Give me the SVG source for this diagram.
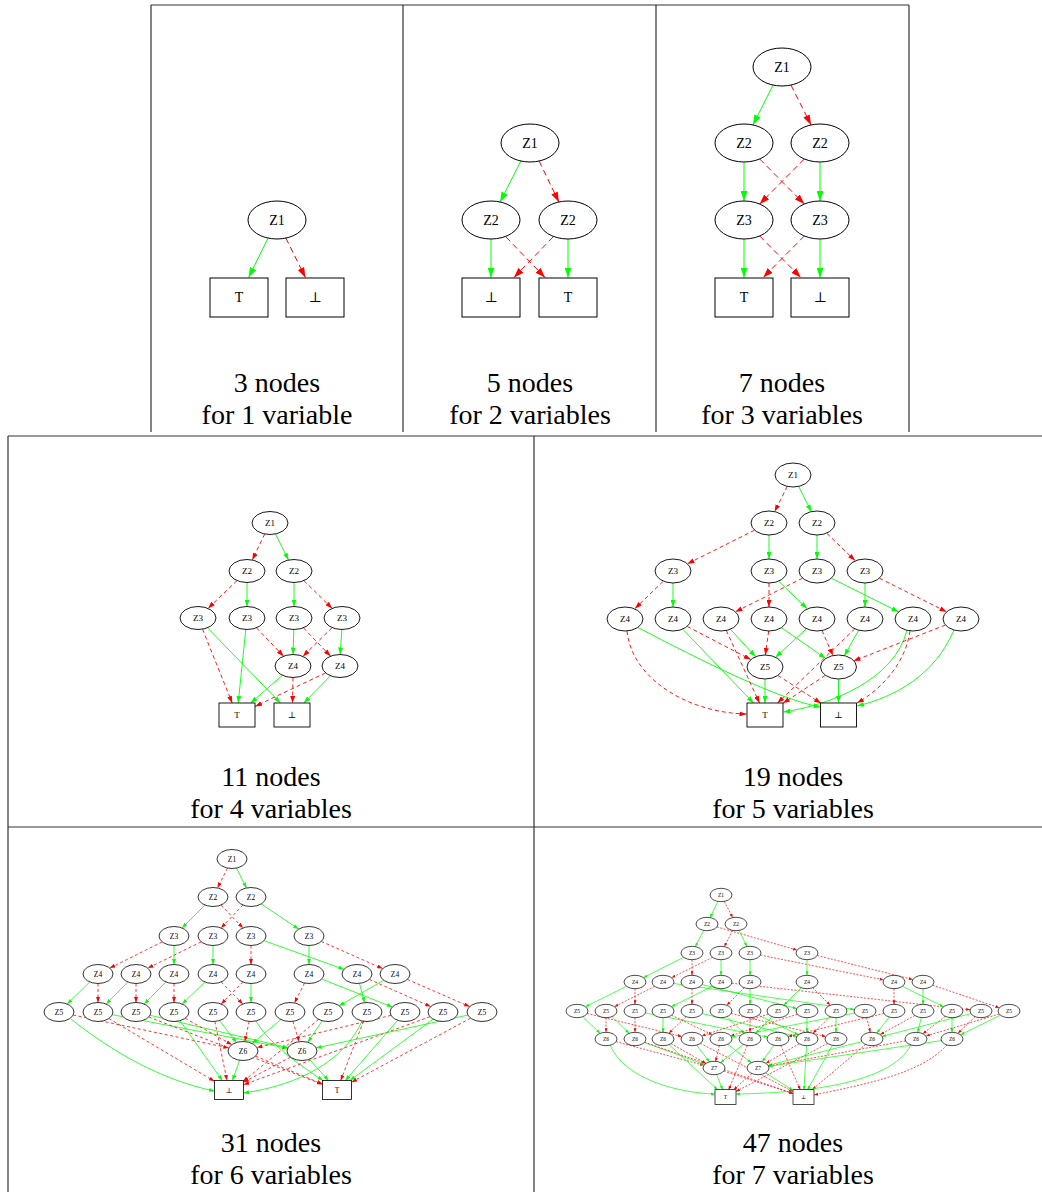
<svg xmlns="http://www.w3.org/2000/svg" width="1042" height="1192" viewBox="0 0 1042 1192">
<style>
.frame{stroke:#333;stroke-width:1.2;fill:none}
.nd ellipse,.nd rect{fill:#fff;stroke:#000}
.w1 ellipse,.w1 rect{stroke-width:1}
.w2 ellipse,.w2 rect{stroke-width:0.9}
.w3 ellipse,.w3 rect{stroke-width:0.8}
.w4 ellipse,.w4 rect{stroke-width:0.7}
.lab{font-family:"Liberation Serif","DejaVu Serif",serif;text-anchor:middle;fill:#000}
.f1{font-size:14px}.f2{font-size:9px}.f3{font-size:7.5px}.f4{font-size:5.5px}
.cap{font-family:"Liberation Serif","DejaVu Serif",serif;font-size:28px;text-anchor:middle;fill:#000}
#edges path{fill:none}
.g1{stroke:#0f0;stroke-width:1;marker-end:url(#ag1)}
.r1{stroke:#f00;stroke-width:1;stroke-dasharray:6 4;marker-end:url(#ar1)}
.g2{stroke:#0f0;stroke-width:0.9;marker-end:url(#ag2)}
.r2{stroke:#f00;stroke-width:0.9;stroke-dasharray:4 3;marker-end:url(#ar2)}
.g3{stroke:#0f0;stroke-width:0.8;marker-end:url(#ag3)}
.r3{stroke:#f00;stroke-width:0.8;stroke-dasharray:3 2.5;marker-end:url(#ar3)}
.g4{stroke:#0f0;stroke-width:0.7;marker-end:url(#ag4)}
.r4{stroke:#f00;stroke-width:0.7;stroke-dasharray:2 1.5;marker-end:url(#ar4)}
</style>
<defs>
<marker id="ag1" markerUnits="userSpaceOnUse" markerWidth="10" markerHeight="7" refX="10" refY="3.5" orient="auto"><path d="M0,0 L10,3.5 L0,7 z" fill="#0f0"/></marker>
<marker id="ar1" markerUnits="userSpaceOnUse" markerWidth="10" markerHeight="7" refX="10" refY="3.5" orient="auto"><path d="M0,0 L10,3.5 L0,7 z" fill="#f00"/></marker>
<marker id="ag2" markerUnits="userSpaceOnUse" markerWidth="7" markerHeight="5" refX="7" refY="2.5" orient="auto"><path d="M0,0 L7,2.5 L0,5 z" fill="#0f0"/></marker>
<marker id="ar2" markerUnits="userSpaceOnUse" markerWidth="7" markerHeight="5" refX="7" refY="2.5" orient="auto"><path d="M0,0 L7,2.5 L0,5 z" fill="#f00"/></marker>
<marker id="ag3" markerUnits="userSpaceOnUse" markerWidth="5.5" markerHeight="4" refX="5.5" refY="2" orient="auto"><path d="M0,0 L5.5,2 L0,4 z" fill="#0f0"/></marker>
<marker id="ar3" markerUnits="userSpaceOnUse" markerWidth="5.5" markerHeight="4" refX="5.5" refY="2" orient="auto"><path d="M0,0 L5.5,2 L0,4 z" fill="#f00"/></marker>
<marker id="ag4" markerUnits="userSpaceOnUse" markerWidth="4" markerHeight="3" refX="4" refY="1.5" orient="auto"><path d="M0,0 L4,1.5 L0,3 z" fill="#0f0"/></marker>
<marker id="ar4" markerUnits="userSpaceOnUse" markerWidth="4" markerHeight="3" refX="4" refY="1.5" orient="auto"><path d="M0,0 L4,1.5 L0,3 z" fill="#f00"/></marker>
</defs>
<rect width="1042" height="1192" fill="#fff"/>
<path class="frame" d="M151,5 H909 M151,5 V432 M403,5 V432 M656,5 V432 M909,5 V432 M8,436 H1042 M8,436 V1192 M534,436 V1192 M8,827 H1042"/>

<g id="edges">
<!-- panel 1 -->
<path class="g1" d="M268.1,238.1 L248.6,277.5"/>
<path class="r1" d="M285.9,238.1 L305.4,277.5"/>
<!-- panel 2 -->
<path class="g1" d="M520.9,161 L500.1,202"/>
<path class="r1" d="M539.1,161 L558.9,202"/>
<path class="g1" d="M491,239 L491,277.5"/>
<path class="r1" d="M506,237 L545,277.5"/>
<path class="r1" d="M553,237 L514,277.5"/>
<path class="g1" d="M568,239 L568,277.5"/>
<!-- panel 3 -->
<path class="g1" d="M773,85.1 L753,124.9"/>
<path class="r1" d="M791,85.1 L811,124.9"/>
<path class="g1" d="M744,162 L744,201"/>
<path class="r1" d="M759.7,159 L804.3,204"/>
<path class="r1" d="M804.3,159 L759.7,204"/>
<path class="g1" d="M820,162 L820,201"/>
<path class="g1" d="M744,239 L744,277.5"/>
<path class="r1" d="M759.7,236 L800.8,277.5"/>
<path class="r1" d="M804.3,236 L763.2,277.5"/>
<path class="g1" d="M820,239 L820,277.5"/>
<!-- panel 4 -->
<path class="r2" d="M264.7,534 L252.3,560"/>
<path class="g2" d="M275.5,534 L288.5,560"/>
<path class="r2" d="M237,580.6 L208,608.4"/>
<path class="g2" d="M247,582.5 L247,606.5"/>
<path class="g2" d="M294,582.5 L294,606.5"/>
<path class="r2" d="M303.8,580.6 L332.2,608.4"/>
<path class="r2" d="M202.5,629.1 L232.2,703"/>
<path class="g2" d="M207.5,627.8 L280.4,703"/>
<path class="g2" d="M245.8,629.5 L238.2,703"/>
<path class="r2" d="M256.4,627.8 L283.6,656.2"/>
<path class="g2" d="M293.8,629.5 L293,654.5"/>
<path class="r2" d="M303.4,627.8 L330.6,656.2"/>
<path class="r2" d="M332.2,627.6 L302.8,656.4"/>
<path class="g2" d="M341.9,629.5 L340.1,654.5"/>
<path class="g2" d="M282.4,675.3 L250.7,703"/>
<path class="r2" d="M293,677.5 L292.5,703"/>
<path class="r2" d="M325.6,672.9 L255,706.4"/>
<path class="g2" d="M330.4,675.8 L303.8,703"/>
<!-- panel 5 -->
<path class="r2" d="M787.3,486.4 L774.7,511.6"/>
<path class="g2" d="M798.7,486.4 L811.3,511.6"/>
<path class="r2" d="M754.6,530.2 L687.4,563.8"/>
<path class="g2" d="M769,535 L769,559"/>
<path class="g2" d="M817,535 L817,559"/>
<path class="r2" d="M827,533.5 L855,560.5"/>
<path class="r2" d="M663,581.5 L635,608.5"/>
<path class="g2" d="M673,583 L673,607"/>
<path class="r2" d="M769,583 L769,607"/>
<path class="g2" d="M779,581.5 L807,608.5"/>
<path class="r2" d="M802.6,578.2 L735.4,611.8"/>
<path class="g2" d="M831.4,578.2 L898.6,611.8"/>
<path class="g2" d="M865,583 L865,607"/>
<path class="r2" d="M879.4,578.2 L946.6,611.8"/>
<path class="r2" d="M627,631 C632,680 690,713 746.5,714"/>
<path class="g2" d="M637,627 C700,660 780,700 820.5,707"/>
<path class="g2" d="M682.7,629.1 L753.5,703"/>
<path class="r2" d="M687.2,626.4 L750.8,659.6"/>
<path class="r2" d="M726.3,630.5 L759.5,703"/>
<path class="g2" d="M730.4,629.2 L755.6,656.8"/>
<path class="r2" d="M768.7,631 L765.3,655"/>
<path class="g2" d="M781.5,627.7 L825.5,658.3"/>
<path class="g2" d="M806.5,628.7 L775.5,657.3"/>
<path class="r2" d="M822,630.5 L833,655.5"/>
<path class="g2" d="M858.7,630.2 L844.3,655.8"/>
<path class="r2" d="M854.7,628.9 L777.5,703"/>
<path class="g2" d="M907,630 C895,680 830,705 783.5,712"/>
<path class="r2" d="M910,631 C905,665 880,690 857,703"/>
<path class="r2" d="M945.5,625 L853.5,661"/>
<path class="g2" d="M954,630 C935,675 895,697 857,706"/>
<path class="g2" d="M765,679 L765,703"/>
<path class="r2" d="M777.9,675.4 L821,703.3"/>
<path class="g2" d="M838.5,679 L838.5,703"/>
<path class="r2" d="M825.3,675.4 L783,703.3"/>
<!-- panel 6 -->
<path class="r3" d="M227.5,868.1 L217.5,887.9"/>
<path class="g3" d="M236.5,868.1 L246.5,887.9"/>
<path class="g3" d="M205,905 L182,928"/>
<path class="r3" d="M221,905 L243,928"/>
<path class="r3" d="M243,905 L221,928"/>
<path class="g3" d="M261.3,903.9 L298.7,929.1"/>
<path class="r3" d="M162.2,941.9 L109.8,968.1"/>
<path class="g3" d="M174,945.5 L174,964.5"/>
<path class="r3" d="M201.1,941.9 L147.9,968.1"/>
<path class="g3" d="M213,945.5 L213,964.5"/>
<path class="r3" d="M251,945.5 L251,964.5"/>
<path class="g3" d="M264.1,940.7 L343.9,969.3"/>
<path class="g3" d="M309,945.5 L309,964.5"/>
<path class="r3" d="M321.3,941.4 L382.7,968.6"/>
<path class="g3" d="M89.8,982 L67.2,1004"/>
<path class="r3" d="M98,983.5 L98,1002.5"/>
<path class="g3" d="M127.8,982 L106.2,1004"/>
<path class="r3" d="M136,983.5 L136,1002.5"/>
<path class="g3" d="M165.8,982 L144.2,1004"/>
<path class="r3" d="M174,983.5 L174,1002.5"/>
<path class="g3" d="M204.8,982 L182.2,1004"/>
<path class="r3" d="M221.2,982 L242.8,1004"/>
<path class="r3" d="M242.8,982 L221.2,1004"/>
<path class="g3" d="M251,983.5 L251,1002.5"/>
<path class="r3" d="M304.5,983.1 L294.5,1002.9"/>
<path class="g3" d="M321.7,979 L392.3,1007"/>
<path class="g3" d="M359.5,983.4 L364.5,1002.6"/>
<path class="r3" d="M369.3,979.4 L430.7,1006.6"/>
<path class="g3" d="M383.8,980.3 L339.2,1005.7"/>
<path class="r3" d="M407.3,979.4 L469.7,1006.6"/>
<path class="g3" d="M71,1019 C110,1050 160,1080 214.5,1091"/>
<path class="r3" d="M73.2,1015 L228.8,1048"/>
<path class="g3" d="M112.4,1014.7 L287.6,1048.3"/>
<path class="r3" d="M108.9,1018.5 L214.5,1081.3"/>
<path class="g3" d="M150.1,1015.3 L287.9,1047.7"/>
<path class="r3" d="M148.8,1017 L322.5,1084.4"/>
<path class="g3" d="M180.1,1020.7 L222.3,1080.5"/>
<path class="r3" d="M185.2,1018.3 L231.8,1044.7"/>
<path class="g3" d="M219.6,1020.5 L236.4,1042.5"/>
<path class="r3" d="M214.9,1021.4 L227,1080.5"/>
<path class="g3" d="M256,1021 C270,1045 300,1065 323,1080.5"/>
<path class="r3" d="M249.1,1021.4 L244.9,1041.6"/>
<path class="g3" d="M280.9,1019.6 L252.1,1043.5"/>
<path class="r3" d="M292.9,1021.3 L299.1,1041.7"/>
<path class="g3" d="M322.2,1020.8 L307.8,1042.2"/>
<path class="r3" d="M318.6,1019.4 L243,1081.5"/>
<path class="g3" d="M362,1021 C345,1060 300,1085 243.5,1093"/>
<path class="r3" d="M363.5,1021.2 L340.7,1080.5"/>
<path class="g3" d="M397.7,1020.3 L345.3,1080.5"/>
<path class="r3" d="M391,1015.4 L257,1047.6"/>
<path class="g3" d="M433.2,1019.2 L349.9,1080.5"/>
<path class="r3" d="M430,1016.7 L243.5,1084.7"/>
<path class="g3" d="M467.8,1015.1 L316.2,1047.9"/>
<path class="r3" d="M470.6,1018.2 L351.5,1082.2"/>
<path class="g3" d="M239.7,1060.3 L232.4,1080.5"/>
<path class="r3" d="M255.5,1056.2 L322.5,1084"/>
<path class="g3" d="M309.4,1059.3 L328.5,1080.5"/>
<path class="r3" d="M290.5,1057.1 L243.5,1082.3"/>
<!-- panel 7 -->
<path class="g4" d="M717.9,901.4 L710.1,917.6"/>
<path class="r4" d="M724.3,901.4 L732.7,917.6"/>
<path class="g4" d="M703.7,930.4 L695.3,946.6"/>
<path class="r4" d="M716.9,926.9 L797.1,950.1"/>
<path class="r4" d="M732.7,930.4 L724.3,946.6"/>
<path class="g4" d="M739.1,930.4 L746.9,946.6"/>
<path class="g4" d="M683.6,957.3 L643.4,977.7"/>
<path class="r4" d="M692,959.7 L692,975.3"/>
<path class="r4" d="M712.5,957.3 L671.5,977.7"/>
<path class="g4" d="M721,959.7 L721,975.3"/>
<path class="g4" d="M750,959.7 L750,975.3"/>
<path class="r4" d="M760.4,955.1 L883.6,979.9"/>
<path class="g4" d="M807,959.7 L807,975.3"/>
<path class="r4" d="M817.2,955.5 L912.8,979.5"/>
<path class="g4" d="M626.5,986.3 L585.5,1006.7"/>
<path class="r4" d="M635,988.7 L635,1004.3"/>
<path class="r4" d="M654.6,986.3 L614.4,1006.7"/>
<path class="g4" d="M673.7,983.5 L854.3,1009.5"/>
<path class="r4" d="M692,988.7 L692,1004.3"/>
<path class="g4" d="M702.2,984.5 L796.8,1008.5"/>
<path class="g4" d="M712.5,986.3 L671.5,1006.7"/>
<path class="r4" d="M731.8,983.2 L970.2,1009.8"/>
<path class="g4" d="M750,988.7 L750,1004.3"/>
<path class="r4" d="M744.3,987.7 L726.7,1005.3"/>
<path class="g4" d="M801.3,987.7 L783.7,1005.3"/>
<path class="r4" d="M812.7,987.7 L830.3,1005.3"/>
<path class="r4" d="M894,988.7 L894,1004.3"/>
<path class="g4" d="M902.5,986.3 L943.5,1006.7"/>
<path class="g4" d="M923,988.7 L923,1004.3"/>
<path class="r4" d="M932.6,985.2 L999.4,1007.8"/>
<path class="g4" d="M582.9,1016.7 L600.1,1033.3"/>
<path class="r4" d="M587.2,1013.5 L681.8,1036.5"/>
<path class="r4" d="M606,1017.7 L606,1032.3"/>
<path class="g4" d="M611.9,1016.7 L629.1,1033.3"/>
<path class="r4" d="M635,1017.7 L635,1032.3"/>
<path class="g4" d="M645.5,1013 L767.5,1037"/>
<path class="g4" d="M663,1017.7 L663,1032.3"/>
<path class="r4" d="M671.6,1015.2 L712.4,1034.8"/>
<path class="r4" d="M686.1,1016.7 L668.9,1033.3"/>
<path class="g4" d="M702.2,1013.5 L796.8,1036.5"/>
<path class="g4" d="M726.9,1016.7 L744.1,1033.3"/>
<path class="r4" d="M731.2,1013.5 L825.8,1036.5"/>
<path class="r4" d="M750,1017.7 L750,1032.3"/>
<path class="g4" d="M758.6,1015.2 L798.4,1034.8"/>
<path class="g4" d="M772.3,1016.7 L755.7,1033.3"/>
<path class="r4" d="M768.3,1014.2 L701.7,1035.8"/>
<path class="g4" d="M807,1017.7 L807,1032.3"/>
<path class="r4" d="M797.3,1014.2 L730.7,1035.8"/>
<path class="g4" d="M836,1017.7 L836,1032.3"/>
<path class="r4" d="M830.1,1016.7 L812.9,1033.3"/>
<path class="r4" d="M866.7,1017.6 L870.3,1032.4"/>
<path class="g4" d="M854.5,1013 L731.5,1037"/>
<path class="g4" d="M889.3,1017 L876.7,1033"/>
<path class="r4" d="M883.8,1013.5 L788.2,1036.5"/>
<path class="g4" d="M921.3,1017.6 L917.7,1032.4"/>
<path class="r4" d="M914.8,1015.5 L880.2,1034.5"/>
<path class="g4" d="M952,1017.7 L952,1032.3"/>
<path class="r4" d="M945.2,1016.3 L922.8,1033.7"/>
<path class="g4" d="M970.9,1013.6 L882.1,1036.4"/>
<path class="r4" d="M975.1,1016.7 L957.9,1033.3"/>
<path class="g4" d="M1000.4,1015.2 L960.6,1034.8"/>
<path class="r4" d="M999.1,1014 L925.9,1036"/>
<path class="g4" d="M610,1045 C625,1080 680,1093 715,1094"/>
<path class="r4" d="M616.1,1041.7 L703.9,1065.3"/>
<path class="g4" d="M644.4,1042.5 L704.6,1064.5"/>
<path class="r4" d="M644.6,1042.3 L793,1093.4"/>
<path class="g4" d="M669,1044.6 L717.6,1089.7"/>
<path class="r4" d="M671,1043.6 L706,1063.4"/>
<path class="g4" d="M696.6,1045.1 L709.4,1061.9"/>
<path class="r4" d="M700.4,1043.4 L793,1091.5"/>
<path class="g4" d="M727.8,1044.3 L751.3,1062.7"/>
<path class="r4" d="M719.4,1045.6 L715.6,1061.4"/>
<path class="g4" d="M743.4,1044.3 L720.6,1062.7"/>
<path class="r4" d="M747.3,1045.5 L728.6,1089.7"/>
<path class="g4" d="M773.7,1045.2 L762.3,1061.8"/>
<path class="r4" d="M780.8,1045.5 L800.3,1089.7"/>
<path class="g4" d="M806.6,1045.7 L803.9,1089.7"/>
<path class="r4" d="M799.1,1043.7 L765.9,1063.3"/>
<path class="g4" d="M832.4,1045.3 L807.6,1089.7"/>
<path class="r4" d="M827.7,1043.4 L736,1091.5"/>
<path class="g4" d="M861.9,1041.6 L768.1,1065.4"/>
<path class="r4" d="M865.6,1044.4 L812.2,1089.7"/>
<path class="g4" d="M911,1045 C890,1085 800,1093 736,1094"/>
<path class="r4" d="M905.5,1040.9 L768.5,1066.1"/>
<path class="g4" d="M941.3,1040.6 L768.7,1066.4"/>
<path class="r4" d="M947,1045 C920,1075 860,1085 814,1095"/>
<path class="g4" d="M716.6,1074.5 L722.6,1089.7"/>
<path class="r4" d="M723.7,1071.1 L793,1093.6"/>
<path class="g4" d="M765.6,1072.9 L793,1090.3"/>
<path class="r4" d="M751.8,1073.5 L733.7,1089.7"/>
</g>

<!-- panel 1 nodes -->
<g id="p1-z1" class="nd w1"><ellipse cx="277" cy="220" rx="29" ry="19"/><text class="lab f1" x="277" y="225">Z1</text></g>
<g id="p1-top" class="nd w1"><rect x="210" y="278" width="58" height="39"/><text class="lab f1" x="239" y="302">T</text></g>
<g id="p1-bot" class="nd w1"><rect x="286" y="278" width="58" height="39"/><text class="lab f1" x="315" y="302">⊥</text></g>
<!-- panel 2 nodes -->
<g id="p2-z1" class="nd w1"><ellipse cx="530" cy="143" rx="29" ry="19"/><text class="lab f1" x="530" y="148">Z1</text></g>
<g id="p2-z2a" class="nd w1"><ellipse cx="491" cy="220" rx="29" ry="19"/><text class="lab f1" x="491" y="225">Z2</text></g>
<g id="p2-z2b" class="nd w1"><ellipse cx="568" cy="220" rx="29" ry="19"/><text class="lab f1" x="568" y="225">Z2</text></g>
<g id="p2-bot" class="nd w1"><rect x="462" y="278" width="58" height="39"/><text class="lab f1" x="491" y="302">⊥</text></g>
<g id="p2-top" class="nd w1"><rect x="539" y="278" width="58" height="39"/><text class="lab f1" x="568" y="302">T</text></g>
<!-- panel 3 nodes -->
<g id="p3-z1" class="nd w1"><ellipse cx="782" cy="67" rx="29" ry="19"/><text class="lab f1" x="782" y="72">Z1</text></g>
<g id="p3-z2a" class="nd w1"><ellipse cx="744" cy="143" rx="29" ry="19"/><text class="lab f1" x="744" y="148">Z2</text></g>
<g id="p3-z2b" class="nd w1"><ellipse cx="820" cy="143" rx="29" ry="19"/><text class="lab f1" x="820" y="148">Z2</text></g>
<g id="p3-z3a" class="nd w1"><ellipse cx="744" cy="220" rx="29" ry="19"/><text class="lab f1" x="744" y="225">Z3</text></g>
<g id="p3-z3b" class="nd w1"><ellipse cx="820" cy="220" rx="29" ry="19"/><text class="lab f1" x="820" y="225">Z3</text></g>
<g id="p3-top" class="nd w1"><rect x="715" y="278" width="58" height="39"/><text class="lab f1" x="744" y="302">T</text></g>
<g id="p3-bot" class="nd w1"><rect x="791" y="278" width="58" height="39"/><text class="lab f1" x="820" y="302">⊥</text></g>
<!-- panel 4 nodes -->
<g id="p4-z1" class="nd w2"><ellipse cx="270" cy="523" rx="18" ry="11.5"/><text class="lab f2" x="270" y="526">Z1</text></g>
<g id="p4-z2a" class="nd w2"><ellipse cx="247" cy="571" rx="18" ry="11.5"/><text class="lab f2" x="247" y="574">Z2</text></g>
<g id="p4-z2b" class="nd w2"><ellipse cx="294" cy="571" rx="18" ry="11.5"/><text class="lab f2" x="294" y="574">Z2</text></g>
<g id="p4-z3a" class="nd w2"><ellipse cx="198" cy="618" rx="18" ry="11.5"/><text class="lab f2" x="198" y="621">Z3</text></g>
<g id="p4-z3b" class="nd w2"><ellipse cx="247" cy="618" rx="18" ry="11.5"/><text class="lab f2" x="247" y="621">Z3</text></g>
<g id="p4-z3c" class="nd w2"><ellipse cx="294" cy="618" rx="18" ry="11.5"/><text class="lab f2" x="294" y="621">Z3</text></g>
<g id="p4-z3d" class="nd w2"><ellipse cx="342" cy="618" rx="18" ry="11.5"/><text class="lab f2" x="342" y="621">Z3</text></g>
<g id="p4-z4a" class="nd w2"><ellipse cx="293" cy="666" rx="18" ry="11.5"/><text class="lab f2" x="293" y="669">Z4</text></g>
<g id="p4-z4b" class="nd w2"><ellipse cx="340" cy="666" rx="18" ry="11.5"/><text class="lab f2" x="340" y="669">Z4</text></g>
<g id="p4-top" class="nd w2"><rect x="219" y="703" width="36" height="24"/><text class="lab f2" x="237" y="718">T</text></g>
<g id="p4-bot" class="nd w2"><rect x="274" y="703" width="36" height="24"/><text class="lab f2" x="292" y="718">⊥</text></g>
<!-- panel 5 nodes -->
<g id="p5-z1" class="nd w2"><ellipse cx="793" cy="475" rx="18" ry="12"/><text class="lab f2" x="793" y="478">Z1</text></g>
<g id="p5-z2a" class="nd w2"><ellipse cx="769" cy="523" rx="18" ry="12"/><text class="lab f2" x="769" y="526">Z2</text></g>
<g id="p5-z2b" class="nd w2"><ellipse cx="817" cy="523" rx="18" ry="12"/><text class="lab f2" x="817" y="526">Z2</text></g>
<g id="p5-z3a" class="nd w2"><ellipse cx="673" cy="571" rx="18" ry="12"/><text class="lab f2" x="673" y="574">Z3</text></g>
<g id="p5-z3b" class="nd w2"><ellipse cx="769" cy="571" rx="18" ry="12"/><text class="lab f2" x="769" y="574">Z3</text></g>
<g id="p5-z3c" class="nd w2"><ellipse cx="817" cy="571" rx="18" ry="12"/><text class="lab f2" x="817" y="574">Z3</text></g>
<g id="p5-z3d" class="nd w2"><ellipse cx="865" cy="571" rx="18" ry="12"/><text class="lab f2" x="865" y="574">Z3</text></g>
<g id="p5-z4a" class="nd w2"><ellipse cx="625" cy="619" rx="18" ry="12"/><text class="lab f2" x="625" y="622">Z4</text></g>
<g id="p5-z4b" class="nd w2"><ellipse cx="673" cy="619" rx="18" ry="12"/><text class="lab f2" x="673" y="622">Z4</text></g>
<g id="p5-z4c" class="nd w2"><ellipse cx="721" cy="619" rx="18" ry="12"/><text class="lab f2" x="721" y="622">Z4</text></g>
<g id="p5-z4d" class="nd w2"><ellipse cx="769" cy="619" rx="18" ry="12"/><text class="lab f2" x="769" y="622">Z4</text></g>
<g id="p5-z4e" class="nd w2"><ellipse cx="817" cy="619" rx="18" ry="12"/><text class="lab f2" x="817" y="622">Z4</text></g>
<g id="p5-z4f" class="nd w2"><ellipse cx="865" cy="619" rx="18" ry="12"/><text class="lab f2" x="865" y="622">Z4</text></g>
<g id="p5-z4g" class="nd w2"><ellipse cx="913" cy="619" rx="18" ry="12"/><text class="lab f2" x="913" y="622">Z4</text></g>
<g id="p5-z4h" class="nd w2"><ellipse cx="961" cy="619" rx="18" ry="12"/><text class="lab f2" x="961" y="622">Z4</text></g>
<g id="p5-z5a" class="nd w2"><ellipse cx="765" cy="667" rx="18" ry="12"/><text class="lab f2" x="765" y="670">Z5</text></g>
<g id="p5-z5b" class="nd w2"><ellipse cx="838.5" cy="667" rx="18" ry="12"/><text class="lab f2" x="838.5" y="670">Z5</text></g>
<g id="p5-top" class="nd w2"><rect x="747" y="703" width="36" height="24"/><text class="lab f2" x="765" y="718">T</text></g>
<g id="p5-bot" class="nd w2"><rect x="820.5" y="703" width="36" height="24"/><text class="lab f2" x="838.5" y="718">⊥</text></g>
<!-- panel 6 nodes -->
<g id="p6-z1" class="nd w3"><ellipse cx="232" cy="859" rx="15" ry="9.5"/><text class="lab f3" x="232" y="861.6">Z1</text></g>
<g id="p6-z2a" class="nd w3"><ellipse cx="213" cy="897" rx="15" ry="9.5"/><text class="lab f3" x="213" y="899.6">Z2</text></g>
<g id="p6-z2b" class="nd w3"><ellipse cx="251" cy="897" rx="15" ry="9.5"/><text class="lab f3" x="251" y="899.6">Z2</text></g>
<g id="p6-z3a" class="nd w3"><ellipse cx="174" cy="936" rx="15" ry="9.5"/><text class="lab f3" x="174" y="938.6">Z3</text></g>
<g id="p6-z3b" class="nd w3"><ellipse cx="213" cy="936" rx="15" ry="9.5"/><text class="lab f3" x="213" y="938.6">Z3</text></g>
<g id="p6-z3c" class="nd w3"><ellipse cx="251" cy="936" rx="15" ry="9.5"/><text class="lab f3" x="251" y="938.6">Z3</text></g>
<g id="p6-z3d" class="nd w3"><ellipse cx="309" cy="936" rx="15" ry="9.5"/><text class="lab f3" x="309" y="938.6">Z3</text></g>
<g id="p6-z4a" class="nd w3"><ellipse cx="98" cy="974" rx="15" ry="9.5"/><text class="lab f3" x="98" y="976.6">Z4</text></g>
<g id="p6-z4b" class="nd w3"><ellipse cx="136" cy="974" rx="15" ry="9.5"/><text class="lab f3" x="136" y="976.6">Z4</text></g>
<g id="p6-z4c" class="nd w3"><ellipse cx="174" cy="974" rx="15" ry="9.5"/><text class="lab f3" x="174" y="976.6">Z4</text></g>
<g id="p6-z4d" class="nd w3"><ellipse cx="213" cy="974" rx="15" ry="9.5"/><text class="lab f3" x="213" y="976.6">Z4</text></g>
<g id="p6-z4e" class="nd w3"><ellipse cx="251" cy="974" rx="15" ry="9.5"/><text class="lab f3" x="251" y="976.6">Z4</text></g>
<g id="p6-z4f" class="nd w3"><ellipse cx="309" cy="974" rx="15" ry="9.5"/><text class="lab f3" x="309" y="976.6">Z4</text></g>
<g id="p6-z4g" class="nd w3"><ellipse cx="357" cy="974" rx="15" ry="9.5"/><text class="lab f3" x="357" y="976.6">Z4</text></g>
<g id="p6-z4h" class="nd w3"><ellipse cx="395" cy="974" rx="15" ry="9.5"/><text class="lab f3" x="395" y="976.6">Z4</text></g>
<g id="p6-z5a" class="nd w3"><ellipse cx="59" cy="1012" rx="15" ry="9.5"/><text class="lab f3" x="59" y="1014.6">Z5</text></g>
<g id="p6-z5b" class="nd w3"><ellipse cx="98" cy="1012" rx="15" ry="9.5"/><text class="lab f3" x="98" y="1014.6">Z5</text></g>
<g id="p6-z5c" class="nd w3"><ellipse cx="136" cy="1012" rx="15" ry="9.5"/><text class="lab f3" x="136" y="1014.6">Z5</text></g>
<g id="p6-z5d" class="nd w3"><ellipse cx="174" cy="1012" rx="15" ry="9.5"/><text class="lab f3" x="174" y="1014.6">Z5</text></g>
<g id="p6-z5e" class="nd w3"><ellipse cx="213" cy="1012" rx="15" ry="9.5"/><text class="lab f3" x="213" y="1014.6">Z5</text></g>
<g id="p6-z5f" class="nd w3"><ellipse cx="251" cy="1012" rx="15" ry="9.5"/><text class="lab f3" x="251" y="1014.6">Z5</text></g>
<g id="p6-z5g" class="nd w3"><ellipse cx="290" cy="1012" rx="15" ry="9.5"/><text class="lab f3" x="290" y="1014.6">Z5</text></g>
<g id="p6-z5h" class="nd w3"><ellipse cx="328" cy="1012" rx="15" ry="9.5"/><text class="lab f3" x="328" y="1014.6">Z5</text></g>
<g id="p6-z5i" class="nd w3"><ellipse cx="367" cy="1012" rx="15" ry="9.5"/><text class="lab f3" x="367" y="1014.6">Z5</text></g>
<g id="p6-z5j" class="nd w3"><ellipse cx="405" cy="1012" rx="15" ry="9.5"/><text class="lab f3" x="405" y="1014.6">Z5</text></g>
<g id="p6-z5k" class="nd w3"><ellipse cx="443" cy="1012" rx="15" ry="9.5"/><text class="lab f3" x="443" y="1014.6">Z5</text></g>
<g id="p6-z5l" class="nd w3"><ellipse cx="482" cy="1012" rx="15" ry="9.5"/><text class="lab f3" x="482" y="1014.6">Z5</text></g>
<g id="p6-z6a" class="nd w3"><ellipse cx="243" cy="1051" rx="15" ry="9.5"/><text class="lab f3" x="243" y="1053.6">Z6</text></g>
<g id="p6-z6b" class="nd w3"><ellipse cx="302" cy="1051" rx="15" ry="9.5"/><text class="lab f3" x="302" y="1053.6">Z6</text></g>
<g id="p6-bot" class="nd w3"><rect x="214.5" y="1080.5" width="29" height="19"/><text class="lab f3" x="229" y="1092.6">⊥</text></g>
<g id="p6-top" class="nd w3"><rect x="322.5" y="1080.5" width="29" height="19"/><text class="lab f3" x="337" y="1092.6">T</text></g>
<!-- panel 7 nodes -->
<g id="p7-z1" class="nd w4"><ellipse cx="721" cy="895" rx="11" ry="6.7"/><text class="lab f4" x="721" y="896.9">Z1</text></g>
<g id="p7-z2a" class="nd w4"><ellipse cx="707" cy="924" rx="11" ry="6.7"/><text class="lab f4" x="707" y="925.9">Z2</text></g>
<g id="p7-z2b" class="nd w4"><ellipse cx="736" cy="924" rx="11" ry="6.7"/><text class="lab f4" x="736" y="925.9">Z2</text></g>
<g id="p7-z3a" class="nd w4"><ellipse cx="692" cy="953" rx="11" ry="6.7"/><text class="lab f4" x="692" y="954.9">Z3</text></g>
<g id="p7-z3b" class="nd w4"><ellipse cx="721" cy="953" rx="11" ry="6.7"/><text class="lab f4" x="721" y="954.9">Z3</text></g>
<g id="p7-z3c" class="nd w4"><ellipse cx="750" cy="953" rx="11" ry="6.7"/><text class="lab f4" x="750" y="954.9">Z3</text></g>
<g id="p7-z3d" class="nd w4"><ellipse cx="807" cy="953" rx="11" ry="6.7"/><text class="lab f4" x="807" y="954.9">Z3</text></g>
<g id="p7-z4a" class="nd w4"><ellipse cx="635" cy="982" rx="11" ry="6.7"/><text class="lab f4" x="635" y="983.9">Z4</text></g>
<g id="p7-z4b" class="nd w4"><ellipse cx="663" cy="982" rx="11" ry="6.7"/><text class="lab f4" x="663" y="983.9">Z4</text></g>
<g id="p7-z4c" class="nd w4"><ellipse cx="692" cy="982" rx="11" ry="6.7"/><text class="lab f4" x="692" y="983.9">Z4</text></g>
<g id="p7-z4d" class="nd w4"><ellipse cx="721" cy="982" rx="11" ry="6.7"/><text class="lab f4" x="721" y="983.9">Z4</text></g>
<g id="p7-z4e" class="nd w4"><ellipse cx="750" cy="982" rx="11" ry="6.7"/><text class="lab f4" x="750" y="983.9">Z4</text></g>
<g id="p7-z4f" class="nd w4"><ellipse cx="807" cy="982" rx="11" ry="6.7"/><text class="lab f4" x="807" y="983.9">Z4</text></g>
<g id="p7-z4g" class="nd w4"><ellipse cx="894" cy="982" rx="11" ry="6.7"/><text class="lab f4" x="894" y="983.9">Z4</text></g>
<g id="p7-z4h" class="nd w4"><ellipse cx="923" cy="982" rx="11" ry="6.7"/><text class="lab f4" x="923" y="983.9">Z4</text></g>
<g id="p7-z5a" class="nd w4"><ellipse cx="577" cy="1011" rx="11" ry="6.7"/><text class="lab f4" x="577" y="1012.9">Z5</text></g>
<g id="p7-z5b" class="nd w4"><ellipse cx="606" cy="1011" rx="11" ry="6.7"/><text class="lab f4" x="606" y="1012.9">Z5</text></g>
<g id="p7-z5c" class="nd w4"><ellipse cx="635" cy="1011" rx="11" ry="6.7"/><text class="lab f4" x="635" y="1012.9">Z5</text></g>
<g id="p7-z5d" class="nd w4"><ellipse cx="663" cy="1011" rx="11" ry="6.7"/><text class="lab f4" x="663" y="1012.9">Z5</text></g>
<g id="p7-z5e" class="nd w4"><ellipse cx="692" cy="1011" rx="11" ry="6.7"/><text class="lab f4" x="692" y="1012.9">Z5</text></g>
<g id="p7-z5f" class="nd w4"><ellipse cx="721" cy="1011" rx="11" ry="6.7"/><text class="lab f4" x="721" y="1012.9">Z5</text></g>
<g id="p7-z5g" class="nd w4"><ellipse cx="750" cy="1011" rx="11" ry="6.7"/><text class="lab f4" x="750" y="1012.9">Z5</text></g>
<g id="p7-z5h" class="nd w4"><ellipse cx="778" cy="1011" rx="11" ry="6.7"/><text class="lab f4" x="778" y="1012.9">Z5</text></g>
<g id="p7-z5i" class="nd w4"><ellipse cx="807" cy="1011" rx="11" ry="6.7"/><text class="lab f4" x="807" y="1012.9">Z5</text></g>
<g id="p7-z5j" class="nd w4"><ellipse cx="836" cy="1011" rx="11" ry="6.7"/><text class="lab f4" x="836" y="1012.9">Z5</text></g>
<g id="p7-z5k" class="nd w4"><ellipse cx="865" cy="1011" rx="11" ry="6.7"/><text class="lab f4" x="865" y="1012.9">Z5</text></g>
<g id="p7-z5l" class="nd w4"><ellipse cx="894" cy="1011" rx="11" ry="6.7"/><text class="lab f4" x="894" y="1012.9">Z5</text></g>
<g id="p7-z5m" class="nd w4"><ellipse cx="923" cy="1011" rx="11" ry="6.7"/><text class="lab f4" x="923" y="1012.9">Z5</text></g>
<g id="p7-z5n" class="nd w4"><ellipse cx="952" cy="1011" rx="11" ry="6.7"/><text class="lab f4" x="952" y="1012.9">Z5</text></g>
<g id="p7-z5o" class="nd w4"><ellipse cx="981" cy="1011" rx="11" ry="6.7"/><text class="lab f4" x="981" y="1012.9">Z5</text></g>
<g id="p7-z5p" class="nd w4"><ellipse cx="1009" cy="1011" rx="11" ry="6.7"/><text class="lab f4" x="1009" y="1012.9">Z5</text></g>
<g id="p7-z6a" class="nd w4"><ellipse cx="606" cy="1039" rx="11" ry="6.7"/><text class="lab f4" x="606" y="1040.9">Z6</text></g>
<g id="p7-z6b" class="nd w4"><ellipse cx="635" cy="1039" rx="11" ry="6.7"/><text class="lab f4" x="635" y="1040.9">Z6</text></g>
<g id="p7-z6c" class="nd w4"><ellipse cx="663" cy="1039" rx="11" ry="6.7"/><text class="lab f4" x="663" y="1040.9">Z6</text></g>
<g id="p7-z6d" class="nd w4"><ellipse cx="692" cy="1039" rx="11" ry="6.7"/><text class="lab f4" x="692" y="1040.9">Z6</text></g>
<g id="p7-z6e" class="nd w4"><ellipse cx="721" cy="1039" rx="11" ry="6.7"/><text class="lab f4" x="721" y="1040.9">Z6</text></g>
<g id="p7-z6f" class="nd w4"><ellipse cx="750" cy="1039" rx="11" ry="6.7"/><text class="lab f4" x="750" y="1040.9">Z6</text></g>
<g id="p7-z6g" class="nd w4"><ellipse cx="778" cy="1039" rx="11" ry="6.7"/><text class="lab f4" x="778" y="1040.9">Z6</text></g>
<g id="p7-z6h" class="nd w4"><ellipse cx="807" cy="1039" rx="11" ry="6.7"/><text class="lab f4" x="807" y="1040.9">Z6</text></g>
<g id="p7-z6i" class="nd w4"><ellipse cx="836" cy="1039" rx="11" ry="6.7"/><text class="lab f4" x="836" y="1040.9">Z6</text></g>
<g id="p7-z6j" class="nd w4"><ellipse cx="872" cy="1039" rx="11" ry="6.7"/><text class="lab f4" x="872" y="1040.9">Z6</text></g>
<g id="p7-z6k" class="nd w4"><ellipse cx="916" cy="1039" rx="11" ry="6.7"/><text class="lab f4" x="916" y="1040.9">Z6</text></g>
<g id="p7-z6l" class="nd w4"><ellipse cx="952" cy="1039" rx="11" ry="6.7"/><text class="lab f4" x="952" y="1040.9">Z6</text></g>
<g id="p7-z7a" class="nd w4"><ellipse cx="714" cy="1068" rx="11" ry="6.7"/><text class="lab f4" x="714" y="1069.9">Z7</text></g>
<g id="p7-z7b" class="nd w4"><ellipse cx="758" cy="1068" rx="11" ry="6.7"/><text class="lab f4" x="758" y="1069.9">Z7</text></g>
<g id="p7-top" class="nd w4"><rect x="715" y="1089.65" width="21" height="14.7"/><text class="lab f4" x="725.5" y="1098.9">T</text></g>
<g id="p7-bot" class="nd w4"><rect x="793" y="1089.65" width="21" height="14.7"/><text class="lab f4" x="803.5" y="1098.9">⊥</text></g>

<g id="captions">
<text class="cap" x="277" y="392">3 nodes</text>
<text class="cap" x="277" y="424">for 1 variable</text>
<text class="cap" x="530" y="392">5 nodes</text>
<text class="cap" x="530" y="424">for 2 variables</text>
<text class="cap" x="782" y="392">7 nodes</text>
<text class="cap" x="782" y="424">for 3 variables</text>
<text class="cap" x="271" y="786">11 nodes</text>
<text class="cap" x="271" y="818">for 4 variables</text>
<text class="cap" x="793" y="786">19 nodes</text>
<text class="cap" x="793" y="818">for 5 variables</text>
<text class="cap" x="271" y="1152">31 nodes</text>
<text class="cap" x="271" y="1184">for 6 variables</text>
<text class="cap" x="793" y="1152">47 nodes</text>
<text class="cap" x="793" y="1184">for 7 variables</text>
</g>
</svg>
